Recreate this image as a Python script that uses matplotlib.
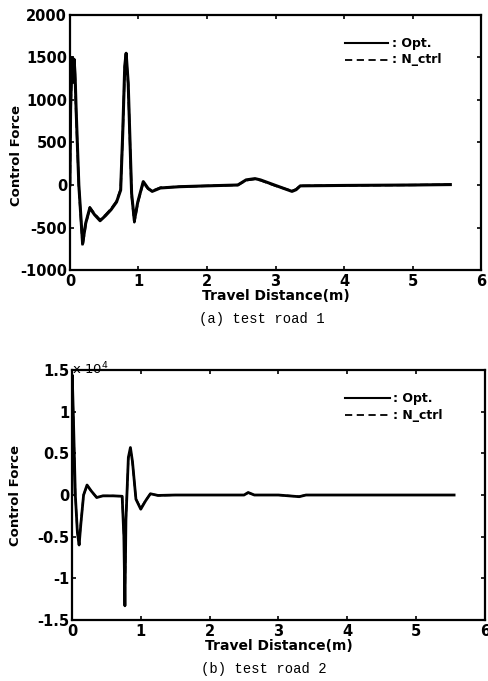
import numpy as np
import matplotlib
matplotlib.use('Agg')
import matplotlib.pyplot as plt
from matplotlib.ticker import FuncFormatter

plt.rcParams['axes.unicode_minus'] = False

# ── test road 1 ──────────────────────────────
x_road1 = [0, 0.01, 0.03, 0.045, 0.06, 0.075, 0.09, 0.13, 0.185, 0.23, 0.29, 0.36,
           0.44, 0.52, 0.6, 0.68, 0.74, 0.77, 0.8, 0.82, 0.85, 0.9, 0.94, 0.99,
           1.07, 1.14, 1.2, 1.32, 1.6, 2.0, 2.45, 2.57, 2.7, 2.78, 3.0, 3.24,
           3.3, 3.36, 4.0, 5.0, 5.55]
opt_road1 = [0, 900, 1500, 1250, 1480, 1300, 900, 0, -690, -450, -270, -350,
             -420, -360, -290, -200, -60, 600, 1400, 1550, 1200, -100, -420, -200,
             40, -40, -75, -35, -20, -10, 0, 60, 75, 60, -5, -75,
             -55, -10, -5, 0, 5]
nctrl_road1 = [0, 850, 1450, 1200, 1450, 1250, 850, -20, -720, -470, -260, -340,
               -410, -350, -280, -190, -50, 580, 1380, 1520, 1180, -120, -440, -210,
               30, -45, -70, -30, -20, -10, 0, 55, 70, 55, -10, -70,
               -50, -10, -5, 0, 5]

# ── test road 2 ──────────────────────────────
x_road2 = [0, 0.005, 0.02, 0.05, 0.08, 0.105, 0.13, 0.17, 0.22, 0.28, 0.36, 0.45,
           0.6, 0.73, 0.755, 0.77, 0.785, 0.82, 0.85, 0.88, 0.93, 1.0, 1.07, 1.14,
           1.25, 1.5, 2.0, 2.5, 2.56, 2.65, 3.0, 3.3, 3.4, 4.0, 5.0, 5.55]
opt_road2 = [0, 14400, 10000, 0, -4500, -6000, -3500, 0, 1200, 500, -300, -100,
             -100, -150, -5000, -13300, -3000, 4500, 5700, 4000, -500, -1700, -700, 150,
             -50, 0, 0, 0, 300, 0, 0, -200, 0, 0, 0, 0]
nctrl_road2 = [0, 14000, 9800, 0, -4400, -5800, -3400, 0, 1150, 480, -280, -100,
               -100, -150, -4800, -12800, -2900, 4400, 5500, 3900, -450, -1600, -650, 140,
               -50, 0, 0, 0, 280, 0, 0, -180, 0, 0, 0, 0]

xticks = [0, 1, 2, 3, 4, 5, 6]
yticks_road1 = [-1000, -500, 0, 500, 1000, 1500, 2000]
yticks_road2 = [-15000, -10000, -5000, 0, 5000, 10000, 15000]

TICK_FONT = dict(family='DejaVu Sans', weight='bold', size=10.5)


def style_axes(ax):
    for sp in ax.spines.values():
        sp.set_linewidth(1.6)
    ax.tick_params(direction='in', top=True, right=True, length=3, width=1.2)
    ax.tick_params(axis='x', pad=3)
    ax.tick_params(axis='y', pad=2)
    for lab in ax.get_xticklabels() + ax.get_yticklabels():
        lab.set_fontproperties(matplotlib.font_manager.FontProperties(**TICK_FONT))
    ax.set_xlabel('Travel Distance(m)', family='DejaVu Sans', weight='bold',
                  size=10, labelpad=0)
    ax.set_ylabel('Control Force', family='Liberation Sans Narrow', weight='bold',
                  size=9.5, labelpad=0)


def add_legend(ax, y0, y1, x0, x1):
    ax.plot([x0, x1], [y0, y0], color='black', lw=1.5, transform=ax.transAxes)
    ax.plot([x0, x1], [y1, y1], color='black', lw=1.3, ls=(0, (4, 2.5)),
            transform=ax.transAxes)
    ax.text(x1 + 0.008, y0, ': Opt.', transform=ax.transAxes, va='center', ha='left',
            family='DejaVu Sans', weight='bold', size=9)
    ax.text(x1 + 0.008, y1, ': N_ctrl', transform=ax.transAxes, va='center', ha='left',
            family='DejaVu Sans', weight='bold', size=9)


fig = plt.figure(figsize=(4.89, 6.81), dpi=100)

# (a) test road 1
ax1 = fig.add_axes([0.143, 0.6035, 0.841, 0.3745])
ax1.plot(x_road1, opt_road1, color='black', lw=2.2)
ax1.plot(x_road1, nctrl_road1, color='black', lw=1.6, ls='--')
ax1.set_xlim(0, 6)
ax1.set_ylim(-1000, 2000)
ax1.set_xticks(xticks)
ax1.set_yticks(yticks_road1)
style_axes(ax1)
ax1.yaxis.set_label_coords(-0.115, 0.45)
add_legend(ax1, 0.89, 0.824, 0.669, 0.774)
fig.text(0.535, 0.525, '(a) test road 1', family='Liberation Mono', size=10, ha='center')

# (b) test road 2
ax2 = fig.add_axes([0.147, 0.0896, 0.845, 0.367])
ax2.plot(x_road2, opt_road2, color='black', lw=2.0)
ax2.plot(x_road2, nctrl_road2, color='black', lw=1.4, ls='--')
ax2.set_xlim(0, 6)
ax2.set_ylim(-15000, 15000)
ax2.set_xticks(xticks)
ax2.set_yticks(yticks_road2)
ax2.yaxis.set_major_formatter(FuncFormatter(lambda v, p: '%g' % (v / 1e4)))
style_axes(ax2)
ax2.yaxis.set_label_coords(-0.12, 0.5)
add_legend(ax2, 0.888, 0.82, 0.661, 0.77)
ax2.text(0.0, 0.984, r'x 10$^4$', transform=ax2.transAxes, ha='left', va='baseline',
         family='DejaVu Sans', size=9.5)
fig.text(0.54, 0.012, '(b) test road 2', family='Liberation Mono', size=10, ha='center')

fig.savefig('out.png', dpi=100)
